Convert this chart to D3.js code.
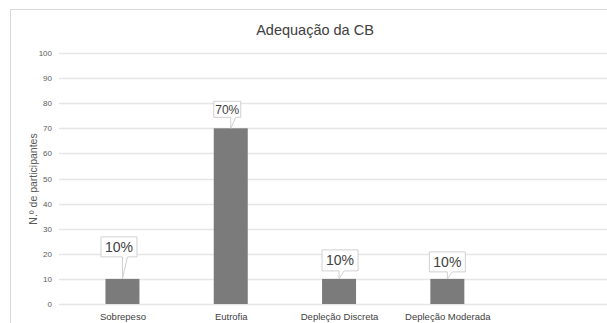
<!DOCTYPE html>
<html>
<head>
<meta charset="utf-8">
<script src="https://cdn.jsdelivr.net/npm/d3@7/dist/d3.min.js"></script>
<style>
  html, body { margin: 0; padding: 0; background: #fff; }
  svg { display: block; font-family: "Liberation Sans", Arial, sans-serif; }
</style>
</head>
<body>
<svg id="chart" width="607" height="323"></svg>
<script>
// Chart data
const categories = ["Sobrepeso", "Eutrofia", "Depleção Discreta", "Depleção Moderada"];
const participants = [10, 70, 10, 10];
const pctLabels = ["10%", "70%", "10%", "10%"];
const yTicks = [0, 10, 20, 30, 40, 50, 60, 70, 80, 90, 100];
const title = "Adequação da CB";
const yTitle = "N.º de participantes";

// Callout placement (box offset from bar centre, gap above bar, box size, font)
const callouts = [
  { dx: -3.5, gap: 22, w: 36, h: 20, fs: 14 },
  { dx: -3.5, gap: 11, w: 27, h: 16, fs: 12 },
  { dx: 1,    gap: 8,  w: 36, h: 21, fs: 14 },
  { dx: 0,    gap: 7,  w: 36, h: 20, fs: 14 }
];

const svg = d3.select("#chart");

// chart area frame (runs off the right and bottom edges)
svg.append("rect")
  .attr("x", 10.5).attr("y", 9.5)
  .attr("width", 640).attr("height", 340)
  .attr("fill", "#fff").attr("stroke", "#d9d9d9").attr("stroke-width", 1);

const x = d3.scalePoint().domain(categories).range([68.3, 501.5]).padding(0.5);
const y = d3.scaleLinear().domain([0, 100]).range([304, 53]);
const gridX0 = 59, gridX1 = 620;
const barW = 34;

// gridlines
svg.append("g")
  .selectAll("line").data(yTicks).join("line")
  .attr("x1", gridX0).attr("x2", gridX1)
  .attr("y1", d => Math.round(y(d)) + 0.5).attr("y2", d => Math.round(y(d)) + 0.5)
  .attr("stroke", "#e6e6e6").attr("stroke-width", 1.3);

// y axis tick labels
const yAxis = d3.axisLeft(y).tickValues(yTicks).tickSize(0).tickPadding(0);
const gy = svg.append("g").attr("transform", "translate(52,0)").call(yAxis);
gy.select(".domain").remove();
gy.selectAll("text")
  .attr("fill", "#595959").attr("font-size", 8).attr("dy", "0.32em");

// x axis category labels
const xAxis = d3.axisBottom(x).tickSize(0).tickPadding(0);
const gx = svg.append("g").attr("transform", "translate(0,313)").call(xAxis);
gx.select(".domain").remove();
gx.selectAll("text")
  .attr("fill", "#404040").attr("font-size", 9.5).attr("dy", "0.71em");

// bars
svg.append("g")
  .selectAll("rect").data(categories).join("rect")
  .attr("x", d => x(d) - barW / 2)
  .attr("y", (d, i) => y(participants[i]))
  .attr("width", barW)
  .attr("height", (d, i) => y(0) - y(participants[i]))
  .attr("fill", "#7b7b7b");

// callout labels with a tail pointing at each bar top
const lab = svg.append("g");
categories.forEach((c, i) => {
  const cfg = callouts[i];
  const cx = x(c);
  const top = y(participants[i]);
  const bx0 = cx + cfg.dx - cfg.w / 2;
  const bx1 = bx0 + cfg.w;
  const by1 = top - cfg.gap;
  const by0 = by1 - cfg.h;
  const path = [
    [bx0, by0], [bx1, by0], [bx1, by1],
    [cx + 5, by1], [cx, top], [cx, by1],
    [bx0, by1]
  ];
  lab.append("path")
    .attr("d", "M" + path.map(p => p.join(",")).join("L") + "Z")
    .attr("fill", "#fff").attr("stroke", "#d0d0d0").attr("stroke-width", 1);
  lab.append("text")
    .attr("x", (bx0 + bx1) / 2).attr("y", (by0 + by1) / 2)
    .attr("text-anchor", "middle").attr("dy", "0.36em")
    .attr("font-size", cfg.fs).attr("fill", "#404040")
    .text(pctLabels[i]);
});

// titles
svg.append("text")
  .attr("x", 315).attr("y", 35)
  .attr("text-anchor", "middle")
  .attr("font-size", 14.5).attr("fill", "#404040")
  .text(title);

svg.append("text")
  .attr("transform", "translate(37,179) rotate(-90)")
  .attr("text-anchor", "middle")
  .attr("font-size", 10.5).attr("fill", "#595959")
  .text(yTitle);
</script>
</body>
</html>
